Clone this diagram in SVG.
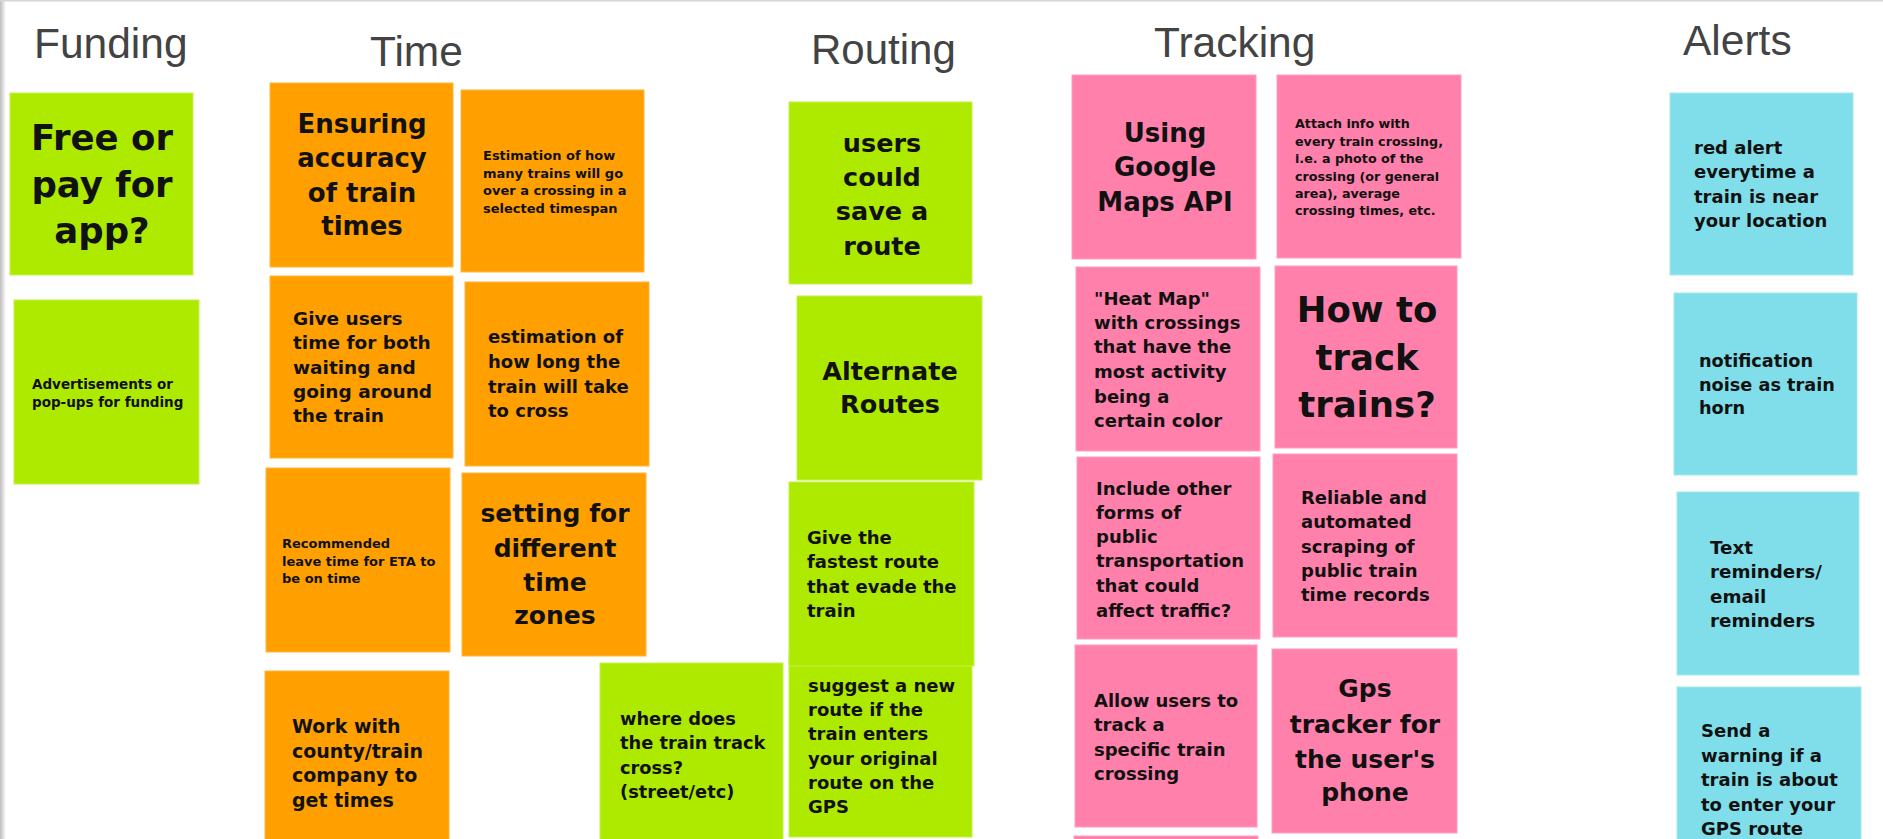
<svg xmlns="http://www.w3.org/2000/svg" width="1883" height="839" viewBox="0 0 1883 839">
<style>
.g{fill:#aeea00;stroke:#c4f04a;stroke-width:1}
.o{fill:#ffa000;stroke:#ffb640;stroke-width:1}
.p{fill:#ff80ab;stroke:#ff9fbe;stroke-width:1}
.c{fill:#80deea;stroke:#a0e8f0;stroke-width:1}
.h{font-family:"Liberation Sans",Arial,sans-serif;fill:#434343}
.t{font-family:"DejaVu Sans","Liberation Sans",sans-serif;font-weight:bold;fill:#111}
.m{text-anchor:middle}
</style>
<defs>
<linearGradient id="edge" x1="0" y1="0" x2="1" y2="0">
<stop offset="0" stop-color="#bdbdbd"/>
<stop offset="1" stop-color="#ffffff"/>
</linearGradient>
</defs>
<rect x="0" y="0" width="1883" height="839" fill="#ffffff"/>
<rect x="0" y="0" width="6" height="839" fill="url(#edge)"/>
<rect x="0" y="0" width="1883" height="1.5" fill="#d6d6d6"/>

<g id="headings">
<text class="h" x="34" y="58" font-size="42.5">Funding</text>
<text class="h" x="370" y="66" font-size="42.5">Time</text>
<text class="h" x="811" y="64" font-size="42">Routing</text>
<text class="h" x="1154" y="57" font-size="42.5">Tracking</text>
<text class="h" x="1683" y="55" font-size="42.5">Alerts</text>
</g>

<g id="connectors"></g>

<g id="n1"><rect class="g" x="10" y="93" width="183" height="182"/>
<text class="t m" font-size="35.5"><tspan x="102" y="150">Free or</tspan><tspan x="102" y="197">pay for</tspan><tspan x="102" y="243">app?</tspan></text></g>

<g id="n2"><rect class="g" x="14" y="300" width="185" height="184"/>
<text class="t" font-size="13.5"><tspan x="32" y="389">Advertisements or</tspan><tspan x="32" y="407">pop-ups for funding</tspan></text></g>

<g id="n3"><rect class="o" x="270" y="83" width="183" height="184"/>
<text class="t m" font-size="26"><tspan x="362" y="133">Ensuring</tspan><tspan x="362" y="167">accuracy</tspan><tspan x="362" y="202">of train</tspan><tspan x="362" y="235">times</tspan></text></g>

<g id="n4"><rect class="o" x="270" y="276" width="183" height="182"/>
<text class="t" font-size="18.5"><tspan x="293" y="325">Give users</tspan><tspan x="293" y="349">time for both</tspan><tspan x="293" y="374">waiting and</tspan><tspan x="293" y="398">going around</tspan><tspan x="293" y="422">the train</tspan></text></g>

<g id="n5"><rect class="o" x="266" y="468" width="184" height="184"/>
<text class="t" font-size="13"><tspan x="282" y="548">Recommended</tspan><tspan x="282" y="566">leave time for ETA to</tspan><tspan x="282" y="583">be on time</tspan></text></g>

<g id="n6"><rect class="o" x="265" y="671" width="184" height="184"/>
<text class="t" font-size="19"><tspan x="292" y="733">Work with</tspan><tspan x="292" y="758">county/train</tspan><tspan x="292" y="782">company to</tspan><tspan x="292" y="807">get times</tspan></text></g>

<g id="n7"><rect class="o" x="461" y="90" width="183" height="182"/>
<text class="t" font-size="13"><tspan x="483" y="160">Estimation of how</tspan><tspan x="483" y="177.5">many trains will go</tspan><tspan x="483" y="195">over a crossing in a</tspan><tspan x="483" y="212.5">selected timespan</tspan></text></g>

<g id="n8"><rect class="o" x="465" y="282" width="184" height="184"/>
<text class="t" font-size="18"><tspan x="488" y="343">estimation of</tspan><tspan x="488" y="368">how long the</tspan><tspan x="488" y="393">train will take</tspan><tspan x="488" y="417">to cross</tspan></text></g>

<g id="n11"><rect class="o" x="462" y="473" width="184" height="183"/>
<text class="t m" font-size="25"><tspan x="555" y="522">setting for</tspan><tspan x="555" y="557">different</tspan><tspan x="555" y="591">time</tspan><tspan x="555" y="624">zones</tspan></text></g>

<g id="n12"><rect class="g" x="600" y="663" width="183" height="184"/>
<text class="t" font-size="17.8"><tspan x="620" y="725">where does</tspan><tspan x="620" y="749">the train track</tspan><tspan x="620" y="774">cross?</tspan><tspan x="620" y="798">(street/etc)</tspan></text></g>

<g id="n9"><rect class="g" x="789" y="102" width="183" height="182"/>
<text class="t m" font-size="25.5"><tspan x="882" y="152">users</tspan><tspan x="882" y="186">could</tspan><tspan x="882" y="220">save a</tspan><tspan x="882" y="255">route</tspan></text></g>

<g id="n10"><rect class="g" x="797" y="296" width="185" height="184"/>
<text class="t m" font-size="25.5"><tspan x="890" y="380">Alternate</tspan><tspan x="890" y="413">Routes</tspan></text></g>

<g id="n14"><rect class="g" x="789" y="653" width="183" height="184"/>
<text class="t" font-size="18"><tspan x="808" y="692">suggest a new</tspan><tspan x="808" y="716">route if the</tspan><tspan x="808" y="740">train enters</tspan><tspan x="808" y="765">your original</tspan><tspan x="808" y="789">route on the</tspan><tspan x="808" y="813">GPS</tspan></text></g>

<g id="n13"><rect class="g" x="789" y="482" width="185" height="184"/>
<text class="t" font-size="18"><tspan x="807" y="544">Give the</tspan><tspan x="807" y="568">fastest route</tspan><tspan x="807" y="593">that evade the</tspan><tspan x="807" y="617">train</tspan></text></g>

<g id="n15"><rect class="p" x="1072" y="75" width="184" height="184"/>
<text class="t m" font-size="26"><tspan x="1165" y="142">Using</tspan><tspan x="1165" y="176">Google</tspan><tspan x="1165" y="211">Maps API</tspan></text></g>

<g id="n16"><rect class="p" x="1277" y="75" width="184" height="183"/>
<text class="t" font-size="12.7"><tspan x="1295" y="128">Attach info with</tspan><tspan x="1295" y="146">every train crossing,</tspan><tspan x="1295" y="163">i.e. a photo of the</tspan><tspan x="1295" y="181">crossing (or general</tspan><tspan x="1295" y="198">area), average</tspan><tspan x="1295" y="215">crossing times, etc.</tspan></text></g>

<g id="n17"><rect class="p" x="1076" y="267" width="184" height="184"/>
<text class="t" font-size="18"><tspan x="1094" y="305">"Heat Map"</tspan><tspan x="1094" y="329">with crossings</tspan><tspan x="1094" y="353">that have the</tspan><tspan x="1094" y="378">most activity</tspan><tspan x="1094" y="403">being a</tspan><tspan x="1094" y="427">certain color</tspan></text></g>

<g id="n18"><rect class="p" x="1275" y="266" width="182" height="182"/>
<text class="t m" font-size="35.5"><tspan x="1367" y="322">How to</tspan><tspan x="1367" y="370">track</tspan><tspan x="1367" y="417">trains?</tspan></text></g>

<g id="n19"><rect class="p" x="1077" y="457" width="183" height="182"/>
<text class="t" font-size="18"><tspan x="1096" y="495">Include other</tspan><tspan x="1096" y="519">forms of</tspan><tspan x="1096" y="543">public</tspan><tspan x="1096" y="567">transportation</tspan><tspan x="1096" y="592">that could</tspan><tspan x="1096" y="617">affect traffic?</tspan></text></g>

<g id="n20"><rect class="p" x="1273" y="454" width="184" height="183"/>
<text class="t" font-size="18"><tspan x="1301" y="504">Reliable and</tspan><tspan x="1301" y="528">automated</tspan><tspan x="1301" y="553">scraping of</tspan><tspan x="1301" y="577">public train</tspan><tspan x="1301" y="601">time records</tspan></text></g>

<g id="n21"><rect class="p" x="1075" y="645" width="182" height="182"/>
<text class="t" font-size="18"><tspan x="1094" y="707">Allow users to</tspan><tspan x="1094" y="731">track a</tspan><tspan x="1094" y="756">specific train</tspan><tspan x="1094" y="780">crossing</tspan></text></g>

<g id="n22"><rect class="p" x="1272" y="649" width="185" height="184"/>
<text class="t m" font-size="25"><tspan x="1365" y="697">Gps</tspan><tspan x="1365" y="733">tracker for</tspan><tspan x="1365" y="768">the user's</tspan><tspan x="1365" y="801">phone</tspan></text></g>

<g id="n27"><rect class="p" x="1074" y="836" width="184" height="20"/></g>

<g id="n23"><rect class="c" x="1670" y="93" width="183" height="182"/>
<text class="t" font-size="18"><tspan x="1694" y="154">red alert</tspan><tspan x="1694" y="178">everytime a</tspan><tspan x="1694" y="203">train is near</tspan><tspan x="1694" y="227">your location</tspan></text></g>

<g id="n24"><rect class="c" x="1674" y="293" width="183" height="182"/>
<text class="t" font-size="17.7"><tspan x="1699" y="367">notification</tspan><tspan x="1699" y="391">noise as train</tspan><tspan x="1699" y="414">horn</tspan></text></g>

<g id="n25"><rect class="c" x="1677" y="492" width="182" height="183"/>
<text class="t" font-size="18.3"><tspan x="1710" y="554">Text</tspan><tspan x="1710" y="578">reminders/</tspan><tspan x="1710" y="603">email</tspan><tspan x="1710" y="627">reminders</tspan></text></g>

<g id="n26"><rect class="c" x="1677" y="687" width="184" height="184"/>
<text class="t" font-size="18"><tspan x="1701" y="737">Send a</tspan><tspan x="1701" y="762">warning if a</tspan><tspan x="1701" y="786">train is about</tspan><tspan x="1701" y="811">to enter your</tspan><tspan x="1701" y="835">GPS route</tspan></text></g>
</svg>
